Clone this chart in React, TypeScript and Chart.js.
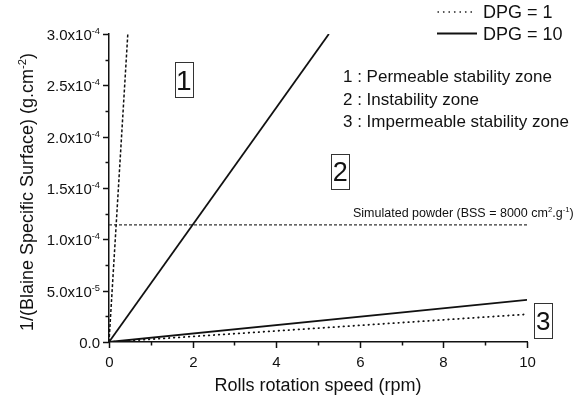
import React, { useEffect, useRef } from "react";
import { Chart, registerables } from "chart.js";

Chart.register(...registerables);

const FONT = '"Liberation Sans", Arial, Helvetica, sans-serif';

// ---- data ----
const xMin = 0;
const xMax = 10;
const yMin = 0;
const yMax = 3e-4;

const xMajorTicks = [0, 2, 4, 6, 8, 10];
const xMinorTicks = [1, 3, 5, 7, 9];
const xTickLabels = ["0", "2", "4", "6", "8", "10"];

const yMajorTicks = [0, 5e-5, 1e-4, 1.5e-4, 2e-4, 2.5e-4, 3e-4];
const yMinorTicks = [2.5e-5, 7.5e-5, 1.25e-4, 1.75e-4, 2.25e-4, 2.75e-4];
const yTickMantissa = ["0.0", "5.0x10", "1.0x10", "1.5x10", "2.0x10", "2.5x10", "3.0x10"];
const yTickExponent = ["", "-5", "-4", "-4", "-4", "-4", "-4"];

// DPG = 1 (dotted / dashed)
const dpg1SteepX = [0, 0.45];
const dpg1SteepY = [0, 3e-4];
const dpg1LowX = [0, 10];
const dpg1LowY = [0, 2.7e-5];

// DPG = 10 (solid)
const dpg10SteepX = [0, 5.26];
const dpg10SteepY = [0, 3e-4];
const dpg10LowX = [0, 10];
const dpg10LowY = [0, 4.1e-5];

// Simulated powder
const simX = [0, 10];
const simY = [1.14e-4, 1.14e-4];

// zone boxes
const zoneLabels = ["1", "2", "3"];
const zoneX = [1.79, 5.53, 10.39];
const zoneY = [2.557e-4, 1.66e-4, 2.09e-5];
const zoneFont = [28, 27, 26];

const zoneLegend = [
  "1 : Permeable stability zone",
  "2 : Instability zone",
  "3 : Impermeable stability zone",
];

const pts = (xs: number[], ys: number[]) => xs.map((x, i) => ({ x, y: ys[i] }));

type Seg = { t: string; sup?: boolean };

function richWidth(ctx: CanvasRenderingContext2D, segs: Seg[], size: number) {
  let w = 0;
  for (const s of segs) {
    ctx.font = `${s.sup ? size * 0.62 : size}px ${FONT}`;
    w += ctx.measureText(s.t).width;
  }
  return w;
}

function drawRich(
  ctx: CanvasRenderingContext2D,
  segs: Seg[],
  x: number,
  y: number,
  size: number,
  align: "left" | "right" | "center"
) {
  const w = richWidth(ctx, segs, size);
  let cx = align === "left" ? x : align === "right" ? x - w : x - w / 2;
  ctx.textAlign = "left";
  ctx.textBaseline = "alphabetic";
  for (const s of segs) {
    const fs = s.sup ? size * 0.62 : size;
    ctx.font = `${fs}px ${FONT}`;
    ctx.fillText(s.t, cx, s.sup ? y - size * 0.38 : y);
    cx += ctx.measureText(s.t).width;
  }
}

const overlay = {
  id: "overlay",
  afterDraw(chart: any) {
    const ctx: CanvasRenderingContext2D = chart.ctx;
    const xs = chart.scales.x;
    const ys = chart.scales.y;
    const a = chart.chartArea;
    ctx.save();
    ctx.strokeStyle = "#111";
    ctx.fillStyle = "#111";
    ctx.lineWidth = 1.5;
    ctx.setLineDash([]);

    const seg = (x1: number, y1: number, x2: number, y2: number) => {
      ctx.beginPath();
      ctx.moveTo(x1, y1);
      ctx.lineTo(x2, y2);
      ctx.stroke();
    };

    // x ticks
    xMajorTicks.forEach((v, i) => {
      const px = Math.round(xs.getPixelForValue(v)) + 0.5;
      seg(px, a.bottom, px, a.bottom + 6);
      ctx.font = `15px ${FONT}`;
      ctx.textAlign = "center";
      ctx.textBaseline = "alphabetic";
      ctx.fillText(xTickLabels[i], px, a.bottom + 25);
    });
    xMinorTicks.forEach((v) => {
      const px = Math.round(xs.getPixelForValue(v)) + 0.5;
      seg(px, a.bottom, px, a.bottom + 3.5);
    });

    // y ticks
    yMajorTicks.forEach((v, i) => {
      const py = Math.round(ys.getPixelForValue(v)) + 0.5;
      seg(a.left - 6, py, a.left, py);
      const segs: Seg[] = [{ t: yTickMantissa[i] }];
      if (yTickExponent[i]) segs.push({ t: yTickExponent[i], sup: true });
      drawRich(ctx, segs, a.left - 9, py + 5, 15, "right");
    });
    yMinorTicks.forEach((v) => {
      const py = Math.round(ys.getPixelForValue(v)) + 0.5;
      seg(a.left - 3.5, py, a.left, py);
    });

    // axis titles
    drawRich(ctx, [{ t: "Rolls rotation speed (rpm)" }], (a.left + a.right) / 2, a.bottom + 49, 18, "center");
    ctx.save();
    ctx.translate(33, (a.top + a.bottom) / 2 + 4);
    ctx.rotate(-Math.PI / 2);
    drawRich(
      ctx,
      [{ t: "1/(Blaine Specific Surface) (g.cm" }, { t: "-2", sup: true }, { t: ")" }],
      0,
      0,
      18,
      "center"
    );
    ctx.restore();

    // legend
    ctx.lineWidth = 1.3;
    ctx.lineCap = "round";
    ctx.setLineDash([0.5, 5]);
    seg(438, 12, 472, 12);
    ctx.setLineDash([]);
    ctx.lineCap = "butt";
    ctx.lineWidth = 1.8;
    seg(437, 33.5, 477, 33.5);
    drawRich(ctx, [{ t: "DPG = 1" }], 483, 18, 18, "left");
    drawRich(ctx, [{ t: "DPG = 10" }], 483, 39.5, 18, "left");

    // zone legend
    zoneLegend.forEach((t, i) => {
      drawRich(ctx, [{ t }], 343, 82 + i * 22.7, 17, "left");
    });

    // simulated powder label
    drawRich(
      ctx,
      [
        { t: "Simulated powder (BSS = 8000 cm" },
        { t: "2", sup: true },
        { t: ".g" },
        { t: "-1", sup: true },
        { t: ")" },
      ],
      353,
      217,
      12.5,
      "left"
    );

    // zone boxes
    ctx.lineWidth = 1;
    ctx.strokeStyle = "#333";
    zoneLabels.forEach((lab, i) => {
      const cx = xs.getPixelForValue(zoneX[i]);
      const cy = ys.getPixelForValue(zoneY[i]);
      ctx.strokeRect(Math.round(cx - 9) + 0.5, Math.round(cy - 17.5) + 0.5, 18, 35);
      ctx.font = `${zoneFont[i]}px ${FONT}`;
      ctx.textAlign = "center";
      ctx.textBaseline = "alphabetic";
      ctx.fillText(lab, cx, cy + zoneFont[i] * 0.36);
    });

    ctx.restore();
  },
};

export default function App() {
  const ref = useRef<HTMLCanvasElement>(null);
  useEffect(() => {
    if (!ref.current) return;
    const chart = new Chart(ref.current, {
      type: "scatter",
      data: {
        datasets: [
          {
            label: "DPG = 1 steep",
            data: pts(dpg1SteepX, dpg1SteepY),
            showLine: true,
            borderColor: "#111",
            borderWidth: 1.5,
            borderDash: [3, 2],
            pointRadius: 0,
          },
          {
            label: "DPG = 1 low",
            data: pts(dpg1LowX, dpg1LowY),
            showLine: true,
            borderColor: "#111",
            borderWidth: 1.8,
            borderDash: [0.5, 4.5],
            borderCapStyle: "round",
            pointRadius: 0,
          },
          {
            label: "DPG = 10 steep",
            data: pts(dpg10SteepX, dpg10SteepY),
            showLine: true,
            borderColor: "#111",
            borderWidth: 1.8,
            pointRadius: 0,
          },
          {
            label: "DPG = 10 low",
            data: pts(dpg10LowX, dpg10LowY),
            showLine: true,
            borderColor: "#111",
            borderWidth: 1.8,
            pointRadius: 0,
          },
          {
            label: "Simulated powder",
            data: pts(simX, simY),
            showLine: true,
            borderColor: "#333",
            borderWidth: 1.2,
            borderDash: [3, 2],
            pointRadius: 0,
          },
        ],
      },
      options: {
        responsive: false,
        animation: false,
        devicePixelRatio: 1,
        layout: { padding: { top: 34, right: 54, left: 0, bottom: 0 } },
        plugins: { legend: { display: false }, tooltip: { enabled: false } },
        scales: {
          x: {
            type: "linear",
            min: xMin,
            max: xMax,
            grid: { display: false },
            ticks: { display: false },
            border: { display: true, color: "#111", width: 1.5 },
            afterFit: (s: any) => {
              s.height = 59;
            },
          },
          y: {
            type: "linear",
            min: yMin,
            max: yMax,
            grid: { display: false },
            ticks: { display: false },
            border: { display: true, color: "#111", width: 1.5 },
            afterFit: (s: any) => {
              s.width = 109;
            },
          },
        },
      },
      plugins: [overlay],
    } as any);
    return () => chart.destroy();
  }, []);
  return (
    <div style={{ position: "absolute", left: 0, top: 0, width: 581, height: 401, background: "#fff" }}>
      <canvas ref={ref} width={581} height={401} />
    </div>
  );
}
